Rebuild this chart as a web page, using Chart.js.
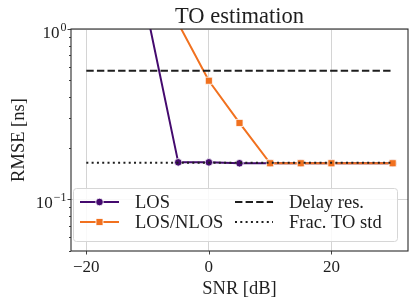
<!DOCTYPE html>
<html><head><meta charset="utf-8">
<script src="https://cdn.jsdelivr.net/npm/chart.js@4/dist/chart.umd.min.js"></script>
<style>html,body{margin:0;padding:0;background:#fff}#wrap{width:415px;height:305px}</style>
</head><body><div id="wrap"><canvas id="c" width="415" height="305"></canvas></div>
<script>
// ---- data ----
const snr = [-10, -5, 0, 5, 10, 15, 20, 30];
const losRmse = [1.2, 0.165, 0.165, 0.163, 0.163, 0.163, 0.163, 0.163];
const losNlosRmse = [null, 1.08, 0.497, 0.281, 0.163, 0.163, 0.163, 0.163];
const delayResX = [-20, 30];
const delayResY = [0.569, 0.569];
const fracToStdX = [-20, 30];
const fracToStdY = [0.164, 0.164];
const xTickValues = [-20, 0, 20];
const yMajorTicks = [1, 0.1];
const yMinorTicks = [0.05, 0.06, 0.07, 0.08, 0.09, 0.2, 0.3, 0.4, 0.5, 0.6, 0.7, 0.8, 0.9];
const seriesNames = ['LOS', 'LOS/NLOS', 'Delay res.', 'Frac. TO std'];
const titleText = 'TO estimation';
const xTitle = 'SNR [dB]';
const yTitle = 'RMSE [ns]';

// ---- styles ----
const PURPLE = '#440a6e';
const ORANGE = '#f1711f';
const INK = '#1e1e1e';
const GRID = '#d4d4d4';
const SERIF = '"Liberation Serif", "DejaVu Serif", serif';
const pts = (xs, ys) => xs.map((x, i) => ({x, y: ys[i]}));

const overlay = {
  id: 'overlay',
  afterDraw(chart) {
    const ctx = chart.ctx, a = chart.chartArea;
    const xs = chart.scales.x, ys = chart.scales.y;
    ctx.save();
    // spines
    ctx.strokeStyle = '#2b2b2b'; ctx.lineWidth = 1.1;
    ctx.strokeRect(a.left, a.top, a.right - a.left, a.bottom - a.top);
    // ticks
    ctx.beginPath();
    xTickValues.forEach(v => { const p = Math.round(xs.getPixelForValue(v)) + 0.5; ctx.moveTo(p, a.bottom); ctx.lineTo(p, a.bottom + 3.5); });
    yMajorTicks.forEach(v => { const p = Math.round(ys.getPixelForValue(v)) + 0.5; ctx.moveTo(a.left, p); ctx.lineTo(a.left - 3.5, p); });
    yMinorTicks.forEach(v => { const p = Math.round(ys.getPixelForValue(v)) + 0.5; ctx.moveTo(a.left, p); ctx.lineTo(a.left - 2, p); });
    ctx.lineWidth = 0.9; ctx.stroke();
    // y tick labels (10^n)
    ctx.fillStyle = INK; ctx.textBaseline = 'alphabetic';
    yMajorTicks.forEach(v => {
      const p = ys.getPixelForValue(v);
      const exp = String(Math.round(Math.log10(v))).replace('-', '\u2212');
      ctx.font = '12px ' + SERIF;
      const ew = ctx.measureText(exp).width;
      ctx.textAlign = 'right';
      ctx.fillText(exp, 66.5, p + 1.5);
      ctx.font = '17px ' + SERIF;
      ctx.fillText('10', 66 - ew - 0.5, p + 8.5);
    });
    // title
    ctx.textAlign = 'center';
    ctx.font = '22.5px ' + SERIF;
    ctx.fillText(titleText, (a.left + a.right) / 2, 23);
    // axis titles
    ctx.font = '18.5px ' + SERIF;
    ctx.fillText(xTitle, (a.left + a.right) / 2, 294);
    ctx.save();
    ctx.translate(24, (a.top + a.bottom) / 2);
    ctx.rotate(-Math.PI / 2);
    ctx.fillText(yTitle, 0, 0);
    ctx.restore();
    // legend
    const lx = 73.5, ly = 188.5, lw = 324, lh = 53, r = 3;
    ctx.beginPath();
    ctx.moveTo(lx + r, ly); ctx.lineTo(lx + lw - r, ly); ctx.arcTo(lx + lw, ly, lx + lw, ly + r, r);
    ctx.lineTo(lx + lw, ly + lh - r); ctx.arcTo(lx + lw, ly + lh, lx + lw - r, ly + lh, r);
    ctx.lineTo(lx + r, ly + lh); ctx.arcTo(lx, ly + lh, lx, ly + lh - r, r);
    ctx.lineTo(lx, ly + r); ctx.arcTo(lx, ly, lx + r, ly, r); ctx.closePath();
    ctx.fillStyle = 'rgba(255,255,255,0.85)'; ctx.fill();
    ctx.strokeStyle = '#d6d6d6'; ctx.lineWidth = 1; ctx.stroke();
    const rows = [202, 222];
    const entries = [
      {col: 0, row: 0, color: PURPLE, dash: [], marker: 'circle'},
      {col: 0, row: 1, color: ORANGE, dash: [], marker: 'rect'},
      {col: 1, row: 0, color: INK, dash: [7.4, 3.2], marker: null},
      {col: 1, row: 1, color: INK, dash: [2, 3.3], marker: null}
    ];
    const cols = [{x0: 80, x1: 119, tx: 135}, {x0: 235, x1: 273, tx: 289}];
    entries.forEach((e, i) => {
      const c = cols[e.col], y = rows[e.row];
      ctx.beginPath(); ctx.setLineDash(e.dash); ctx.strokeStyle = e.color; ctx.lineWidth = 2;
      ctx.moveTo(c.x0, y); ctx.lineTo(c.x1, y); ctx.stroke(); ctx.setLineDash([]);
      const mx = (c.x0 + c.x1) / 2;
      if (e.marker === 'circle') {
        ctx.beginPath(); ctx.arc(mx, y, 3.8, 0, Math.PI * 2); ctx.fillStyle = e.color; ctx.fill();
        ctx.strokeStyle = '#fff'; ctx.lineWidth = 0.8; ctx.stroke();
      } else if (e.marker === 'rect') {
        ctx.fillStyle = e.color; ctx.fillRect(mx - 3.5, y - 3.5, 7, 7);
        ctx.strokeStyle = '#fff'; ctx.lineWidth = 0.8; ctx.strokeRect(mx - 3.5, y - 3.5, 7, 7);
      }
      ctx.fillStyle = INK; ctx.textAlign = 'left'; ctx.textBaseline = 'middle';
      ctx.font = '18.5px ' + SERIF;
      ctx.fillText(seriesNames[i], c.tx, y + 1);
    });
    ctx.restore();
  }
};

new Chart(document.getElementById('c'), {
  type: 'line',
  data: {
    datasets: [
      {label: seriesNames[0], data: pts(snr, losRmse), borderColor: PURPLE, backgroundColor: PURPLE,
       borderWidth: 2, pointStyle: 'circle', pointRadius: 3.8, pointBorderColor: '#fff', pointBorderWidth: 0.8,
       pointBackgroundColor: PURPLE, order: 4},
      {label: seriesNames[1], data: pts(snr, losNlosRmse), borderColor: ORANGE, backgroundColor: ORANGE,
       borderWidth: 2, pointStyle: 'rect', pointRadius: 5, pointBorderColor: '#fff', pointBorderWidth: 0.8,
       pointBackgroundColor: ORANGE, order: 3},
      {label: seriesNames[2], data: pts(delayResX, delayResY), borderColor: INK, borderWidth: 2,
       borderDash: [7.4, 3.2], pointRadius: 0, order: 2},
      {label: seriesNames[3], data: pts(fracToStdX, fracToStdY), borderColor: INK, borderWidth: 2,
       borderDash: [2, 3.3], pointRadius: 0, order: 1}
    ]
  },
  options: {
    responsive: false, animation: false, devicePixelRatio: 1,
    layout: {padding: {left: 0, right: 7, top: 29, bottom: 0}},
    plugins: {legend: {display: false}, tooltip: {enabled: false}, title: {display: false}},
    elements: {line: {tension: 0}},
    scales: {
      x: {
        type: 'linear', min: -22.5, max: 32.5,
        afterBuildTicks: s => { s.ticks = xTickValues.map(v => ({value: v})); },
        afterFit: s => { s.height = 54; },
        grid: {color: GRID, lineWidth: 1, drawTicks: false},
        border: {display: false},
        ticks: {color: INK, padding: 6, font: {family: SERIF, size: 17},
                callback: v => String(v).replace('-', '\u2212')}
      },
      y: {
        type: 'logarithmic', min: 0.0498, max: 1,
        afterBuildTicks: s => { s.ticks = yMajorTicks.map(v => ({value: v})); },
        afterFit: s => { s.width = 71; },
        grid: {color: GRID, lineWidth: 1, drawTicks: false},
        border: {display: false},
        ticks: {display: false}
      }
    }
  },
  plugins: [overlay]
});
</script>
</body></html>
